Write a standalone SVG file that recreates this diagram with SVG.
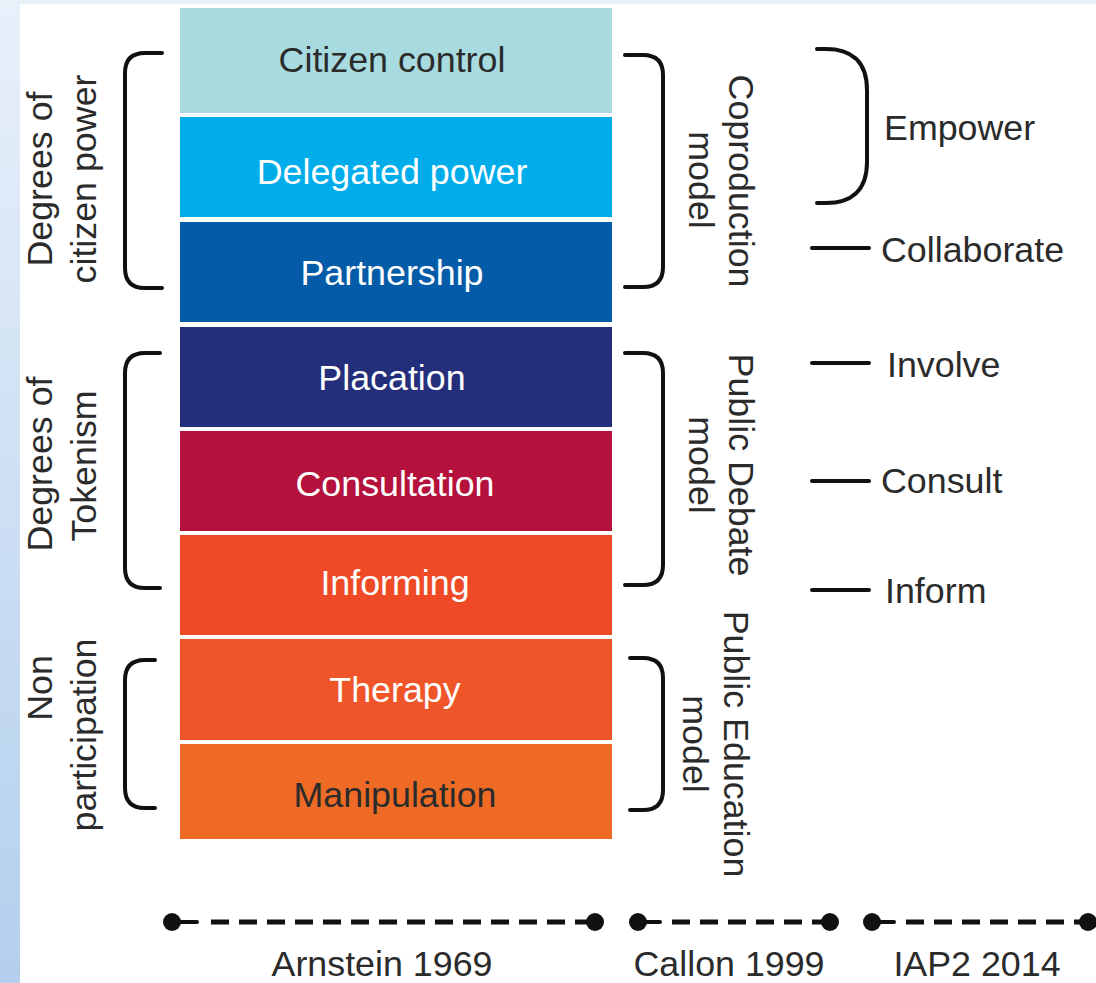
<svg xmlns="http://www.w3.org/2000/svg" width="1096" height="983" viewBox="0 0 1096 983">
<defs>
<linearGradient id="bg" x1="0" y1="0" x2="0" y2="1">
<stop offset="0" stop-color="#e8f0fa"/>
<stop offset="1" stop-color="#b3cfed"/>
</linearGradient>
<style>
text{font-family:"Liberation Sans",Arial,sans-serif;font-size:35.8px;fill:#2b2b2b}
.row text{text-anchor:middle}
.w{fill:#ffffff}
.br{fill:none;stroke:#111;stroke-width:4;stroke-linecap:round}
.tick{stroke:#111;stroke-width:4;stroke-linecap:round}
.tl{stroke:#111;stroke-width:5;stroke-dasharray:18 10}
.dot{fill:#111}
.mid{text-anchor:middle}
</style>
</defs>
<rect x="0" y="0" width="1096" height="983" fill="url(#bg)"/>
<rect x="0" y="0" width="1096" height="4" fill="#e8f0fa"/>
<rect x="20" y="4" width="1076" height="979" fill="#ffffff"/>

<g id="row-citizen-control" class="row"><rect x="180" y="8" width="432" height="105" fill="#a8dbe0"/><text x="392" y="72">Citizen control</text></g>
<g id="row-delegated-power" class="row"><rect x="180" y="117" width="432" height="100" fill="#00adea"/><text class="w" x="392" y="184">Delegated power</text></g>
<g id="row-partnership" class="row"><rect x="180" y="222" width="432" height="100" fill="#045ca8"/><text class="w" x="392" y="285">Partnership</text></g>
<g id="row-placation" class="row"><rect x="180" y="327" width="432" height="100" fill="#232f7b"/><text class="w" x="392" y="390">Placation</text></g>
<g id="row-consultation" class="row"><rect x="180" y="431" width="432" height="100" fill="#b4113c"/><text class="w" x="395" y="496">Consultation</text></g>
<g id="row-informing" class="row"><rect x="180" y="535" width="432" height="100" fill="#ee4a26"/><text class="w" x="395" y="595">Informing</text></g>
<g id="row-therapy" class="row"><rect x="180" y="639" width="432" height="101" fill="#f0552a"/><text class="w" x="395" y="702">Therapy</text></g>
<g id="row-manipulation" class="row"><rect x="180" y="744" width="432" height="95" fill="#ef6a24"/><text x="395" y="807">Manipulation</text></g>

<g id="label-citizen-power">
<text class="mid" transform="translate(52,179) rotate(-90)">Degrees of</text>
<text class="mid" transform="translate(96,179) rotate(-90)">citizen power</text>
</g>
<g id="label-tokenism">
<text class="mid" transform="translate(52,464) rotate(-90)">Degrees of</text>
<text class="mid" transform="translate(96,466) rotate(-90)">Tokenism</text>
</g>
<g id="label-non-participation">
<text class="mid" transform="translate(52,688) rotate(-90)">Non</text>
<text class="mid" transform="translate(96,735) rotate(-90)">participation</text>
</g>

<g id="label-coproduction">
<text class="mid" transform="translate(729,181) rotate(90)">Coproduction</text>
<text class="mid" transform="translate(689,180) rotate(90)">model</text>
</g>
<g id="label-public-debate">
<text class="mid" transform="translate(729,465) rotate(90)">Public Debate</text>
<text class="mid" transform="translate(689,465) rotate(90)">model</text>
</g>
<g id="label-public-education">
<text class="mid" transform="translate(724,744) rotate(90)">Public Education</text>
<text class="mid" transform="translate(683,744) rotate(90)">model</text>
</g>

<g id="iap2-empower"><text x="884" y="140">Empower</text></g>
<g id="iap2-collaborate"><text x="881" y="262">Collaborate</text></g>
<g id="iap2-involve"><text x="887" y="377">Involve</text></g>
<g id="iap2-consult"><text x="881" y="493">Consult</text></g>
<g id="iap2-inform"><text x="885" y="603">Inform</text></g>

<g id="timeline-labels">
<text class="mid" x="382" y="976">Arnstein 1969</text>
<text class="mid" x="729" y="976">Callon 1999</text>
<text class="mid" x="977" y="976">IAP2 2014</text>
</g>

<g id="connectors">
<path class="br" d="M162,53 H145 Q125,53 125,73 V268 Q125,288 145,288 H162"/>
<path class="br" d="M160,353 H145 Q125,353 125,373 V568 Q125,588 145,588 H160"/>
<path class="br" d="M155,660 H145 Q125,660 125,680 V788 Q125,808 145,808 H155"/>
<path class="br" d="M625,55 H643 Q663,55 663,75 V267 Q663,287 643,287 H625"/>
<path class="br" d="M625,353 H643 Q663,353 663,373 V565 Q663,585 643,585 H625"/>
<path class="br" d="M630,658 H643 Q663,658 663,678 V790 Q663,810 643,810 H630"/>
<path class="br" d="M817,49 H826 C850,49 867,60 867,90 V162 C867,192 850,203 826,203 H817"/>
<line class="tick" x1="812" y1="248" x2="869" y2="248"/>
<line class="tick" x1="812" y1="363" x2="869" y2="363"/>
<line class="tick" x1="812" y1="481" x2="869" y2="481"/>
<line class="tick" x1="812" y1="590" x2="869" y2="590"/>
<line class="tick" x1="172" y1="922" x2="197" y2="922"/>
<line class="tl" x1="211" y1="922" x2="595" y2="922"/>
<line class="tick" x1="638" y1="922" x2="660" y2="922"/>
<line class="tl" x1="672" y1="922" x2="830" y2="922"/>
<line class="tick" x1="872" y1="922" x2="894" y2="922"/>
<line class="tl" x1="906" y1="922" x2="1088" y2="922"/>
<circle class="dot" cx="172" cy="922" r="9"/>
<circle class="dot" cx="595" cy="922" r="9"/>
<circle class="dot" cx="638" cy="922" r="9"/>
<circle class="dot" cx="830" cy="922" r="9"/>
<circle class="dot" cx="872" cy="922" r="9"/>
<circle class="dot" cx="1088" cy="922" r="9"/>
</g>
</svg>
